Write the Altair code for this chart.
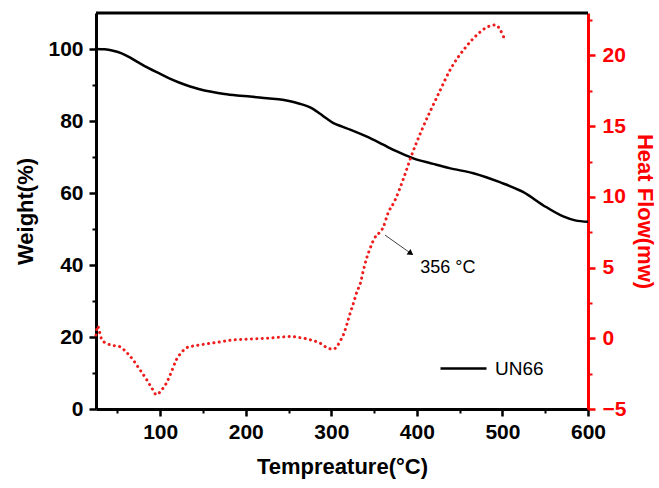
import altair as alt
import pandas as pd

# TGA curve: temperature (°C) vs weight (%)
tga_temp = [25, 35, 45, 55, 65, 75, 87, 99, 110, 122, 135, 145, 160, 175, 190, 205,
            225, 243, 252, 263, 271, 279, 287, 295, 302, 312, 322, 341, 360, 376,
            395, 419, 438, 466, 497, 524, 551, 571, 585, 600]
tga_weight = [100, 99.9, 99.5, 98.8, 97.6, 96.2, 94.6, 93.2, 91.9, 90.7, 89.6, 88.9,
              88.1, 87.5, 87.1, 86.8, 86.3, 85.9, 85.5, 84.8, 84.2, 83.3, 82.0, 80.6,
              79.5, 78.5, 77.6, 75.7, 73.5, 71.6, 69.7, 68.1, 66.9, 65.5, 63.0, 60.3,
              56.1, 53.5, 52.4, 52.0]

# DSC curve: temperature (°C) vs heat flow (mW)
dsc_temp = [25, 27, 29, 32, 37, 42, 53, 60, 68, 76, 84, 90, 96, 101, 107, 113, 119,
            125, 130, 138, 146, 165, 185, 205, 224, 240, 252, 263, 275, 287, 296, 302,
            307, 310, 314, 318, 322, 326, 330, 334, 337.5, 341, 345, 349, 353, 357,
            361, 366, 374, 385, 393, 407, 425, 440, 456, 471, 482, 492, 497.5, 501.5]
dsc_flow = [0.23, 0.87, 0.47, -0.12, -0.35, -0.47, -0.6, -0.95, -1.5, -2.2, -2.9, -3.5,
            -4.0, -3.7, -3.2, -2.4, -1.5, -1.0, -0.7, -0.55, -0.47, -0.3, -0.12, -0.05,
            0.0, 0.08, 0.12, 0.05, -0.1, -0.35, -0.7, -0.77, -0.55, -0.23, 0.23, 0.94,
            1.76, 2.5, 3.3, 3.9, 4.8, 5.6, 6.3, 6.9, 7.3, 7.5, 7.9, 8.8, 9.7, 11.4, 12.8,
            14.9, 17.25, 19.1, 20.5, 21.5, 22.0, 22.15, 21.8, 21.3]

series_name = "UN66"

# Axis tick values
x_major = [100, 200, 300, 400, 500, 600]
x_minor = [50, 150, 250, 350, 450, 550]
w_major = [0, 20, 40, 60, 80, 100]
w_minor = [10, 30, 50, 70, 90]
hf_major = [-5, 0, 5, 10, 15, 20]
hf_minor = [-2.5, 2.5, 7.5, 12.5, 17.5, 22.5]

# Annotation of the decomposition shoulder
arrow_temp = [362.7, 393.0]
arrow_flow = [7.3, 6.0]
note_temp = 404
note_flow = 5.0
note_text = "356 °C"

tga = pd.DataFrame({"T": tga_temp, "W": tga_weight, "series": series_name})
dsc = pd.DataFrame({"T": dsc_temp, "HF": dsc_flow})
arrow = pd.DataFrame({"T0": [arrow_temp[0]], "H0": [arrow_flow[0]],
                      "T1": [arrow_temp[1]], "H1": [arrow_flow[1]]})
head = pd.DataFrame({"T": [arrow_temp[1]], "HF": [arrow_flow[1]]})
note = pd.DataFrame({"T": [note_temp], "HF": [note_flow], "label": [note_text]})

FONT = "Liberation Sans"
RED = "#ff0000"

x_scale = alt.Scale(domain=[25, 600], nice=False, zero=False)
w_scale = alt.Scale(domain=[0, 110], nice=False, zero=False)
hf_scale = alt.Scale(domain=[-5, 23], nice=False, zero=False)

x_axis = alt.Axis(
    values=x_major, title="Tempreature(°C)", grid=False, orient="bottom",
    domainColor="black", domainWidth=3, tickColor="black", tickWidth=2.5, tickSize=7,
    labelFont=FONT, labelFontWeight="bold", labelFontSize=21, labelColor="black",
    labelPadding=5, labelFlush=False,
    titleFont=FONT, titleFontWeight="bold", titleFontSize=22, titleColor="black",
    titlePadding=14,
)
w_axis = alt.Axis(
    values=w_major, title="Weight(%)", grid=False, orient="left",
    domainColor="black", domainWidth=3, tickColor="black", tickWidth=2.5, tickSize=7,
    labelFont=FONT, labelFontWeight="bold", labelFontSize=21, labelColor="black",
    labelPadding=6,
    titleFont=FONT, titleFontWeight="bold", titleFontSize=22, titleColor="black",
    titlePadding=10,
)
hf_axis = alt.Axis(
    values=hf_major, title="Heat Flow(mw)", grid=False, orient="right",
    domainColor=RED, domainWidth=3, tickColor=RED, tickWidth=2.5, tickSize=7,
    labelFont=FONT, labelFontWeight="bold", labelFontSize=21, labelColor=RED,
    labelPadding=7,
    titleFont=FONT, titleFontWeight="bold", titleFontSize=22, titleColor=RED,
    titlePadding=7,
)


def minor_axis(values, orient, color):
    return alt.Axis(values=values, orient=orient, labels=False, domain=False,
                    grid=False, title=None, tickColor=color, tickWidth=2,
                    tickSize=4)


tga_line = alt.Chart(tga).mark_line(strokeWidth=2.5, interpolate="monotone").encode(
    x=alt.X("T:Q", scale=x_scale, axis=x_axis),
    y=alt.Y("W:Q", scale=w_scale, axis=w_axis),
    color=alt.Color(
        "series:N",
        scale=alt.Scale(domain=[series_name], range=["black"]),
        legend=alt.Legend(
            title=None, orient="none", legendX=343, legendY=331, padding=0,
            symbolType="stroke", symbolSize=2116, symbolStrokeWidth=2.5,
            symbolStrokeColor="black", labelFont=FONT, labelFontSize=19,
            labelColor="black", labelOffset=7,
        ),
    ),
)

dsc_line = alt.Chart(dsc).mark_line(
    color="#ee1c1c", strokeWidth=3, strokeDash=[0.1, 5.3], strokeCap="round",
    interpolate="monotone",
).encode(
    x=alt.X("T:Q", scale=x_scale, axis=None),
    y=alt.Y("HF:Q", scale=hf_scale, axis=hf_axis),
)

# Minor ticks on the bottom and left axes
minor_bl = alt.Chart(tga).mark_point(opacity=0).encode(
    x=alt.X("T:Q", scale=x_scale, axis=minor_axis(x_minor, "bottom", "black")),
    y=alt.Y("W:Q", scale=w_scale, axis=minor_axis(w_minor, "left", "black")),
)
# Minor ticks on the right axis
minor_r = alt.Chart(dsc).mark_point(opacity=0).encode(
    x=alt.X("T:Q", scale=x_scale, axis=None),
    y=alt.Y("HF:Q", scale=hf_scale, axis=minor_axis(hf_minor, "right", RED)),
)

arrow_line = alt.Chart(arrow).mark_rule(color="#444444", strokeWidth=1).encode(
    x=alt.X("T0:Q", scale=x_scale, axis=None),
    x2="T1:Q",
    y=alt.Y("H0:Q", scale=hf_scale, axis=None),
    y2="H1:Q",
)
arrow_head = alt.Chart(head).mark_point(
    shape="triangle-right", filled=True, color="black", size=45, angle=35, opacity=1,
).encode(
    x=alt.X("T:Q", scale=x_scale, axis=None),
    y=alt.Y("HF:Q", scale=hf_scale, axis=None),
)
note_label = alt.Chart(note).mark_text(
    font=FONT, fontSize=18, color="black", align="left", baseline="middle",
).encode(
    x=alt.X("T:Q", scale=x_scale, axis=None),
    y=alt.Y("HF:Q", scale=hf_scale, axis=None),
    text="label:N",
)

# Upper frame line
top_frame = alt.Chart(alt.Data(values=[{}])).mark_rule(
    color="black", strokeWidth=3
).encode(x=alt.value(0), x2=alt.value(492), y=alt.value(0))

chart = alt.layer(
    minor_bl, minor_r, tga_line, dsc_line, arrow_line, arrow_head, note_label,
    top_frame,
).resolve_scale(
    y="independent"
).resolve_axis(
    x="independent", y="independent"
).properties(
    width=492, height=396,
    autosize=alt.AutoSizeParams(type="none"),
    padding={"left": 96, "top": 13, "right": 71, "bottom": 79},
).configure_view(stroke=None)

chart.save("out.html", embed_options={"renderer": "svg", "actions": False})
